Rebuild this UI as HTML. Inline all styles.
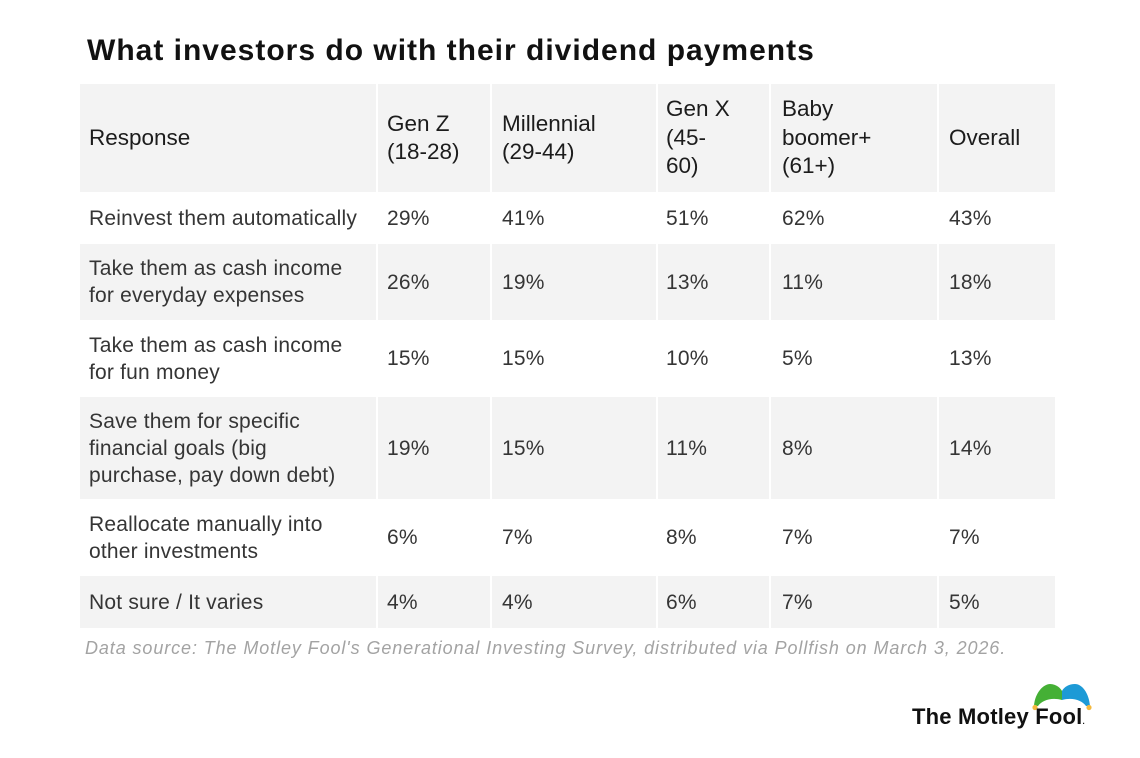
<!DOCTYPE html>
<html>
<head>
<meta charset="utf-8">
<style>
  html, body { margin:0; padding:0; }
  body { width:1140px; height:758px; background:#ffffff; position:relative; overflow:hidden;
         font-family:"Liberation Sans", Arial, sans-serif; }
  .title { position:absolute; left:87px; top:36px; font-size:30px; line-height:30px; font-weight:bold;
           color:#111; letter-spacing:1px; white-space:nowrap; }
  .row { position:absolute; left:80px; width:975px; display:flex; }
  .row.g .c { background:#f3f3f3; }
  .c { display:flex; align-items:center; box-sizing:border-box; white-space:nowrap;
       font-size:21px; line-height:27px; color:#353535; letter-spacing:0.2px; }
  .c + .c { margin-left:2px; }
  .h .c { font-size:22.5px; line-height:28.5px; color:#1c1c1c; letter-spacing:0; }
  .w1 { width:296px; padding-left:9px; }
  .w2 { width:112px; padding-left:9px; }
  .w3 { width:164px; padding-left:10px; }
  .w4 { width:111px; padding-left:8px; }
  .w5 { width:166px; padding-left:11px; }
  .w6 { width:116px; padding-left:10px; }
  .foot { position:absolute; left:85px; top:639px; font-size:18px; line-height:18px; font-style:italic;
          color:#a3a3a3; letter-spacing:0.9px; white-space:nowrap; }
  .logo { position:absolute; left:912px; top:706px; font-size:22px; line-height:22px; font-weight:bold;
          color:#111; letter-spacing:0.2px; white-space:nowrap; }
  svg.hat { position:absolute; left:0; top:0; }
</style>
</head>
<body>
  <div class="title">What investors do with their dividend payments</div>

  <div class="row g h" style="top:84px;height:108px;">
    <div class="c w1">Response</div>
    <div class="c w2">Gen Z<br>(18-28)</div>
    <div class="c w3">Millennial<br>(29-44)</div>
    <div class="c w4">Gen X<br>(45-<br>60)</div>
    <div class="c w5">Baby<br>boomer+<br>(61+)</div>
    <div class="c w6">Overall</div>
  </div>

  <div class="row" style="top:192px;height:52px;">
    <div class="c w1">Reinvest them automatically</div>
    <div class="c w2">29%</div>
    <div class="c w3">41%</div>
    <div class="c w4">51%</div>
    <div class="c w5">62%</div>
    <div class="c w6">43%</div>
  </div>

  <div class="row g" style="top:244px;height:76px;">
    <div class="c w1">Take them as cash income<br>for everyday expenses</div>
    <div class="c w2">26%</div>
    <div class="c w3">19%</div>
    <div class="c w4">13%</div>
    <div class="c w5">11%</div>
    <div class="c w6">18%</div>
  </div>

  <div class="row" style="top:320px;height:77px;">
    <div class="c w1">Take them as cash income<br>for fun money</div>
    <div class="c w2">15%</div>
    <div class="c w3">15%</div>
    <div class="c w4">10%</div>
    <div class="c w5">5%</div>
    <div class="c w6">13%</div>
  </div>

  <div class="row g" style="top:397px;height:102px;">
    <div class="c w1">Save them for specific<br>financial goals (big<br>purchase, pay down debt)</div>
    <div class="c w2">19%</div>
    <div class="c w3">15%</div>
    <div class="c w4">11%</div>
    <div class="c w5">8%</div>
    <div class="c w6">14%</div>
  </div>

  <div class="row" style="top:499px;height:77px;">
    <div class="c w1">Reallocate manually into<br>other investments</div>
    <div class="c w2">6%</div>
    <div class="c w3">7%</div>
    <div class="c w4">8%</div>
    <div class="c w5">7%</div>
    <div class="c w6">7%</div>
  </div>

  <div class="row g" style="top:576px;height:52px;">
    <div class="c w1">Not sure / It varies</div>
    <div class="c w2">4%</div>
    <div class="c w3">4%</div>
    <div class="c w4">6%</div>
    <div class="c w5">7%</div>
    <div class="c w6">5%</div>
  </div>

  <div class="foot">Data source: The Motley Fool's Generational Investing Survey, distributed via Pollfish on March 3, 2026.</div>

  <svg class="hat" width="1140" height="758" viewBox="0 0 1140 758">
    <path d="M1034,706 C1035,692 1044,684 1050,684 C1057,684 1061,689 1062,691 L1062,700 C1052,697 1042,700 1038,706 Z" fill="#45b035"/>
    <path d="M1062,691 C1064,687 1069,684 1075,684 C1082,684 1089,693 1090,706 L1086,706 C1082,700 1072,697 1062,700 Z" fill="#1d9ad6"/>
    <circle cx="1035" cy="707.5" r="2.6" fill="#f4b93e"/>
    <circle cx="1089" cy="707.5" r="2.6" fill="#f4b93e"/>
  </svg>
  <div class="logo">The Motley Fool<span style="font-size:8px;letter-spacing:0">.</span></div>
</body>
</html>
